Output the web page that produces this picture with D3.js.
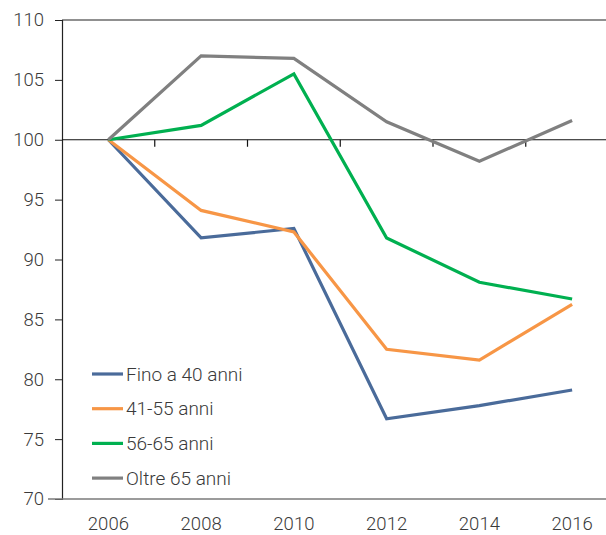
<!doctype html>
<html>
<head>
<script src="https://d3js.org/d3.v7.min.js"></script>
<style>
  body { margin: 0; background: #fff; }
  text { font-family: Roboto, "Liberation Sans", sans-serif; font-weight: 300; }
</style>
</head>
<body>
<div id="chart"></div>
<script>
// data
var years = ["2006", "2008", "2010", "2012", "2014", "2016"];
var seriesNames = ["Fino a 40 anni", "41-55 anni", "56-65 anni", "Oltre 65 anni"];
var fino40 = [100, 91.8, 92.6, 76.7, 77.8, 79.1];
var anni4155 = [100, 94.1, 92.3, 82.5, 81.6, 86.25];
var anni5665 = [100, 101.2, 105.5, 91.8, 88.1, 86.7];
var oltre65 = [100, 107.0, 106.8, 101.5, 98.2, 101.6];
var colors = ["#4a6b9a", "#f79646", "#00b050", "#808080"];
var yTicks = [70, 75, 80, 85, 90, 95, 100, 105, 110];

var allSeries = [fino40, anni4155, anni5665, oltre65];

var W = 606, H = 535;
var mLeft = 62, mTop = 20, mBottom = 499;
var fs = "18.5px";

var svg = d3.select("#chart").append("svg")
    .attr("width", W)
    .attr("height", H);

// band runs past the right edge, like the original (clipped)
var x = d3.scaleBand().domain(years).range([mLeft, 618.5]);
var y = d3.scaleLinear().domain([70, 110]).range([mBottom, mTop]);

// top border
svg.append("line")
    .attr("x1", mLeft).attr("x2", W)
    .attr("y1", y(110)).attr("y2", y(110))
    .attr("stroke", "#6b6b6b").attr("stroke-width", 1.3);

// y axis
var yAxis = svg.append("g")
    .attr("transform", "translate(" + mLeft + ",0)")
    .call(d3.axisLeft(y).tickValues(yTicks).tickSize(7).tickPadding(11));
yAxis.select(".domain").attr("stroke", "#222").attr("stroke-width", 1.2);
yAxis.selectAll(".tick line").attr("stroke", "#222");
yAxis.selectAll("text")
    .attr("fill", "#3a3a3a")
    .style("font-size", fs);

// bottom line at 70
svg.append("line")
    .attr("x1", 48).attr("x2", W)
    .attr("y1", y(70)).attr("y2", y(70))
    .attr("stroke", "#7a7a7a").attr("stroke-width", 1.6);

// year labels under the plot
var xLab = svg.append("g")
    .attr("transform", "translate(0," + y(70) + ")")
    .call(d3.axisBottom(x).tickSize(0).tickPadding(18));
xLab.select(".domain").remove();
xLab.selectAll("text")
    .attr("fill", "#3a3a3a")
    .style("font-size", fs);

// horizontal axis at 100 with ticks between categories
var base = svg.append("g");
base.append("line")
    .attr("x1", mLeft).attr("x2", W)
    .attr("y1", y(100)).attr("y2", y(100))
    .attr("stroke", "#111").attr("stroke-width", 1.2);
base.selectAll(".sep")
    .data(years.slice(0, years.length - 1))
    .enter().append("line")
    .attr("class", "sep")
    .attr("x1", function (d) { return x(d) + x.bandwidth(); })
    .attr("x2", function (d) { return x(d) + x.bandwidth(); })
    .attr("y1", y(100))
    .attr("y2", y(100) + 7)
    .attr("stroke", "#111").attr("stroke-width", 1.2);

// lines
var line = d3.line()
    .x(function (d, i) { return x(years[i]) + x.bandwidth() / 2; })
    .y(function (d) { return y(d); });

svg.selectAll(".serie")
    .data(allSeries)
    .enter().append("path")
    .attr("class", "serie")
    .attr("d", line)
    .attr("fill", "none")
    .attr("stroke", function (d, i) { return colors[i]; })
    .attr("stroke-width", 3.2)
    .attr("stroke-linejoin", "miter");

// legend
var leg = svg.selectAll(".leg")
    .data(seriesNames)
    .enter().append("g")
    .attr("class", "leg")
    .attr("transform", function (d, i) { return "translate(92," + (374 + i * 34.7) + ")"; });
leg.append("line")
    .attr("x1", 0).attr("x2", 31)
    .attr("stroke", function (d, i) { return colors[i]; })
    .attr("stroke-width", 3.2);
leg.append("text")
    .attr("x", 34)
    .attr("dy", "0.35em")
    .attr("fill", "#3a3a3a")
    .style("font-size", "19px")
    .text(function (d) { return d; });
</script>
</body>
</html>
